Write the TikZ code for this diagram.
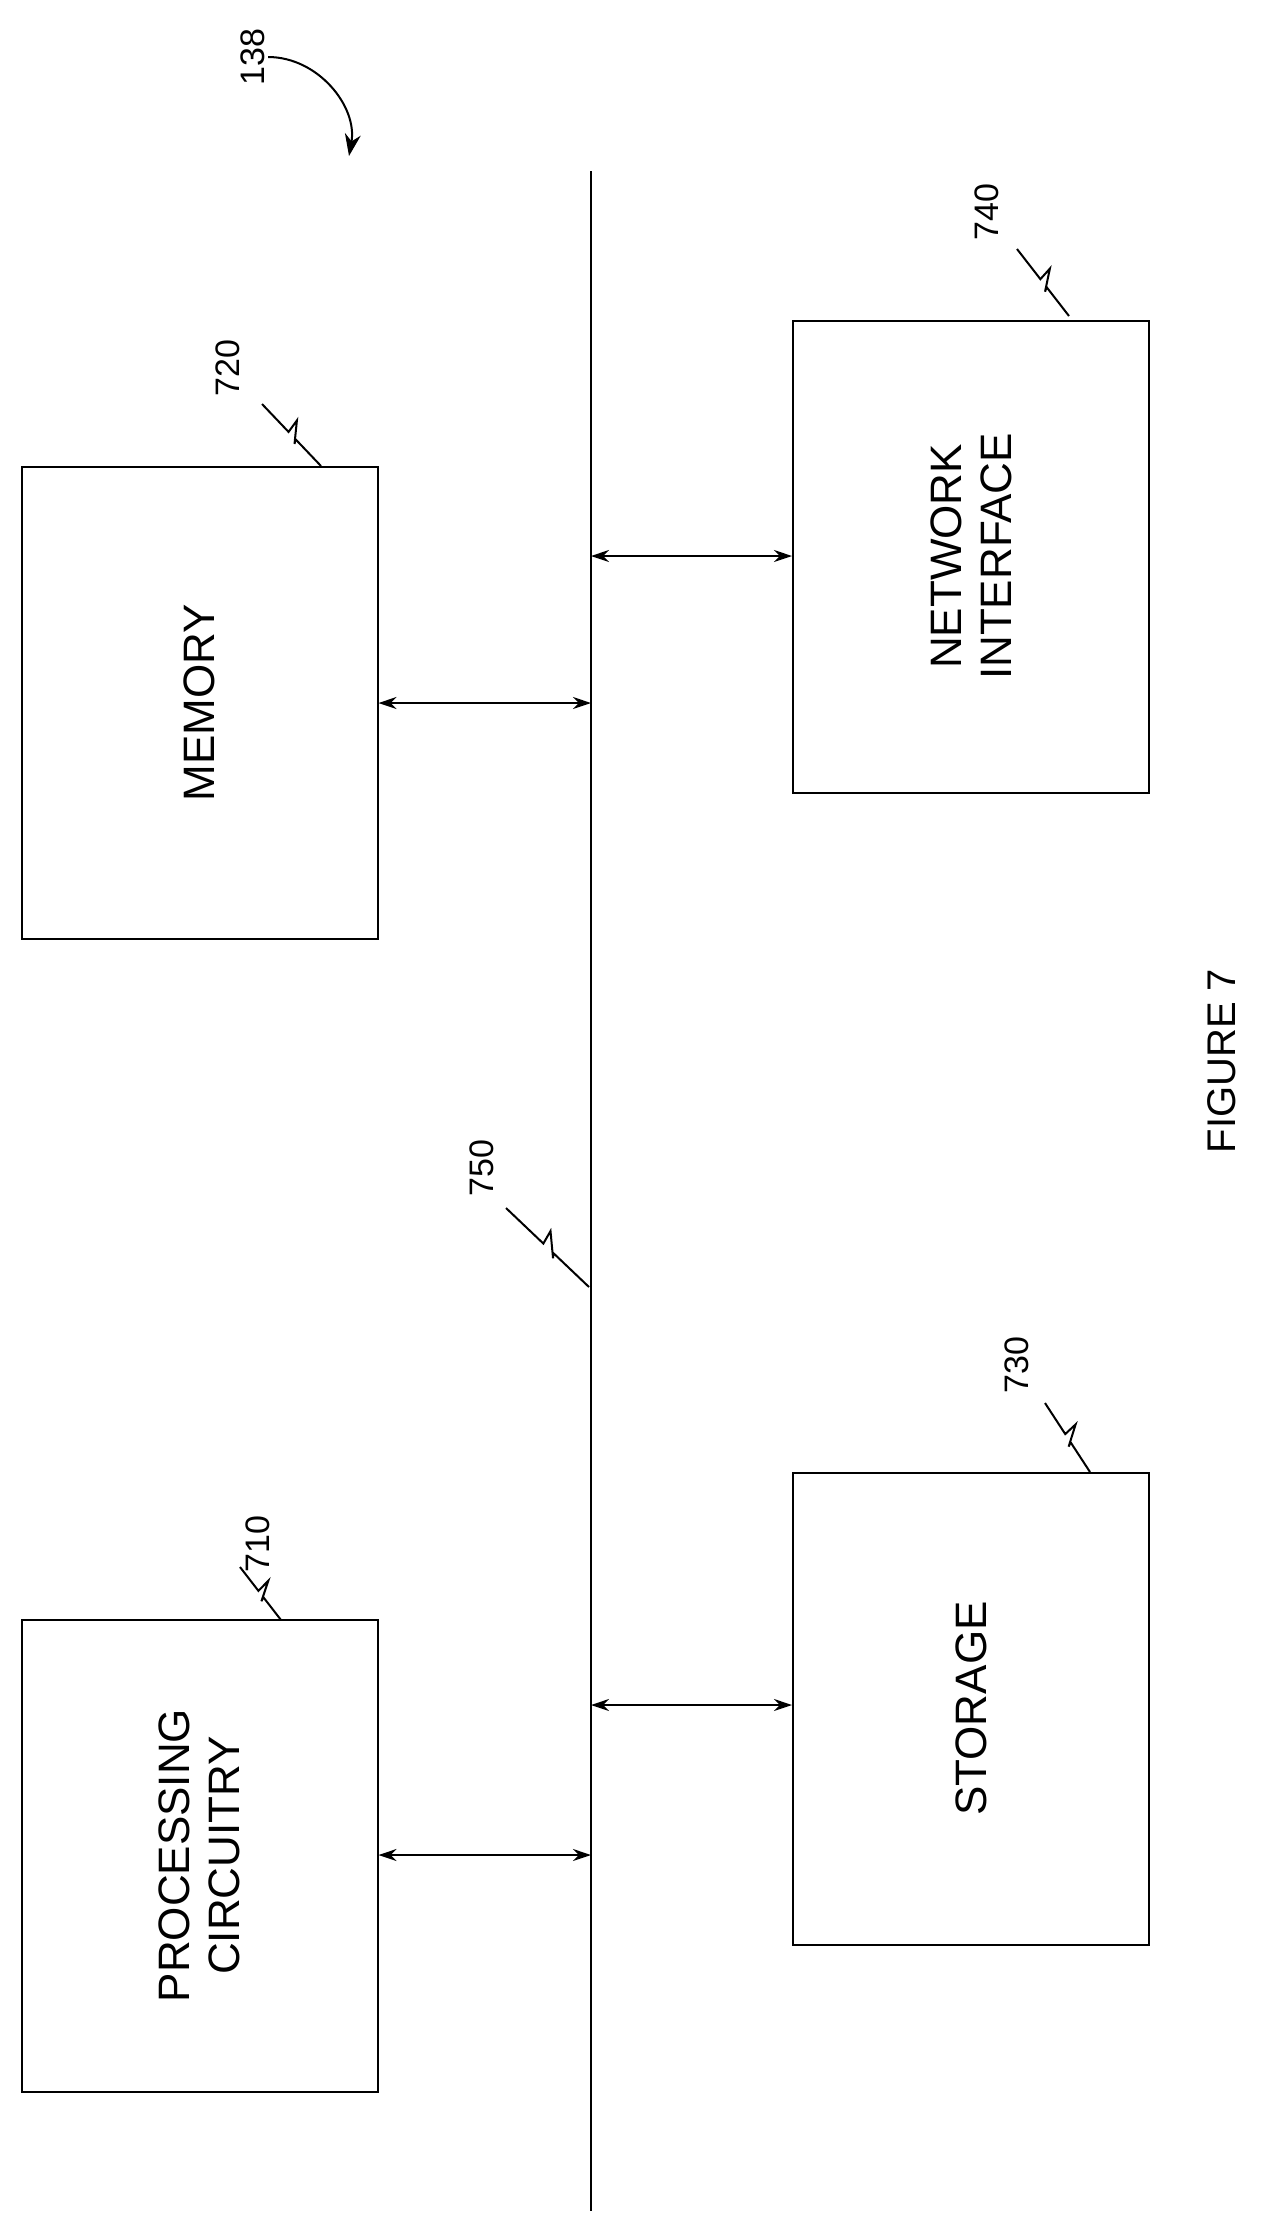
\documentclass[tikz,border=0pt]{standalone}
\usepackage{fontspec}
\setmainfont{Liberation Sans}
\usetikzlibrary{calc,arrows.meta}
\begin{document}
\begin{tikzpicture}[x=0.5pt,y=-0.5pt,line width=1pt,
  box/.style={draw,minimum width=178pt,minimum height=236pt,inner sep=0pt},
  big/.style={font=\fontsize{22}{25}\selectfont,align=center,rotate=90},
  num/.style={font=\fontsize{17}{20}\selectfont,rotate=90,inner sep=1pt},
  dbl/.style={{Stealth[length=9pt,width=6pt]}-{Stealth[length=9pt,width=6pt]}}]
\useasboundingbox (0,0) rectangle (1268,2229);
\newcommand{\leaderline}[2]{\draw (#1) -- ($(#1)!0.45!(#2)$) -- ($(#1)!0.42!(#2)!7pt!90:(#2)$) -- ($(#1)!0.6!(#2)!-2pt!90:(#2)$) -- ($(#1)!0.57!(#2)$) -- (#2);}
% bus
\coordinate (bt) at (591,171);
\coordinate (bb) at (591,2211);
\draw (bt) -- (bb);
% boxes
\node[box,label={[big]center:MEMORY}] (mem) at (199.5,703) {};
\node[box,label={[big]center:PROCESSING\\CIRCUITRY}] (proc) at (199.5,1855.5) {};
\node[box,label={[big]center:NETWORK\\INTERFACE}] (net) at (971,556.5) {};
\node[box,label={[big]center:STORAGE}] (sto) at (971,1708.5) {};
% arrows
\coordinate (bm) at (591,703);
\coordinate (bp) at (591,1855);
\coordinate (bn) at (591,556);
\coordinate (bs) at (591,1705);
\draw[dbl] (mem.east |- bm) -- (bm);
\draw[dbl] (proc.east |- bp) -- (bp);
\draw[dbl] (bn) -- (net.west |- bn);
\draw[dbl] (bs) -- (sto.west |- bs);
% labels
\node[num] (l720) at (228,368) {720};
\node[num] (l710) at (258,1544) {710};
\node[num] (l740) at (987,212) {740};
\node[num] (l730) at (1017,1365) {730};
\node[num] (l750) at (482,1168) {750};
\node[num] (l138) at (253,57) {138};
\coordinate (e720) at (321,466);
\coordinate (e710) at (281,1620);
\coordinate (e740) at (1069,316);
\coordinate (e730) at (1090,1472);
\coordinate (e750) at (589,1287);
\coordinate (s720) at (262,404);
\coordinate (s710) at (240,1567);
\coordinate (s740) at (1017,249);
\coordinate (s730) at (1045,1403);
\coordinate (s750) at (506,1208);
\leaderline{s720}{e720}
\leaderline{s710}{e710}
\leaderline{s740}{e740}
\leaderline{s730}{e730}
\leaderline{s750}{e750}
\coordinate (a138) at (349,156);
\draw[-{Stealth[length=11pt,width=8pt]}] (l138.south) to[out=0,in=80] (a138);
\node[font=\fontsize{20}{24}\selectfont,rotate=90] (fig) at (1222,1061) {FIGURE 7};
\end{tikzpicture}
\end{document}
